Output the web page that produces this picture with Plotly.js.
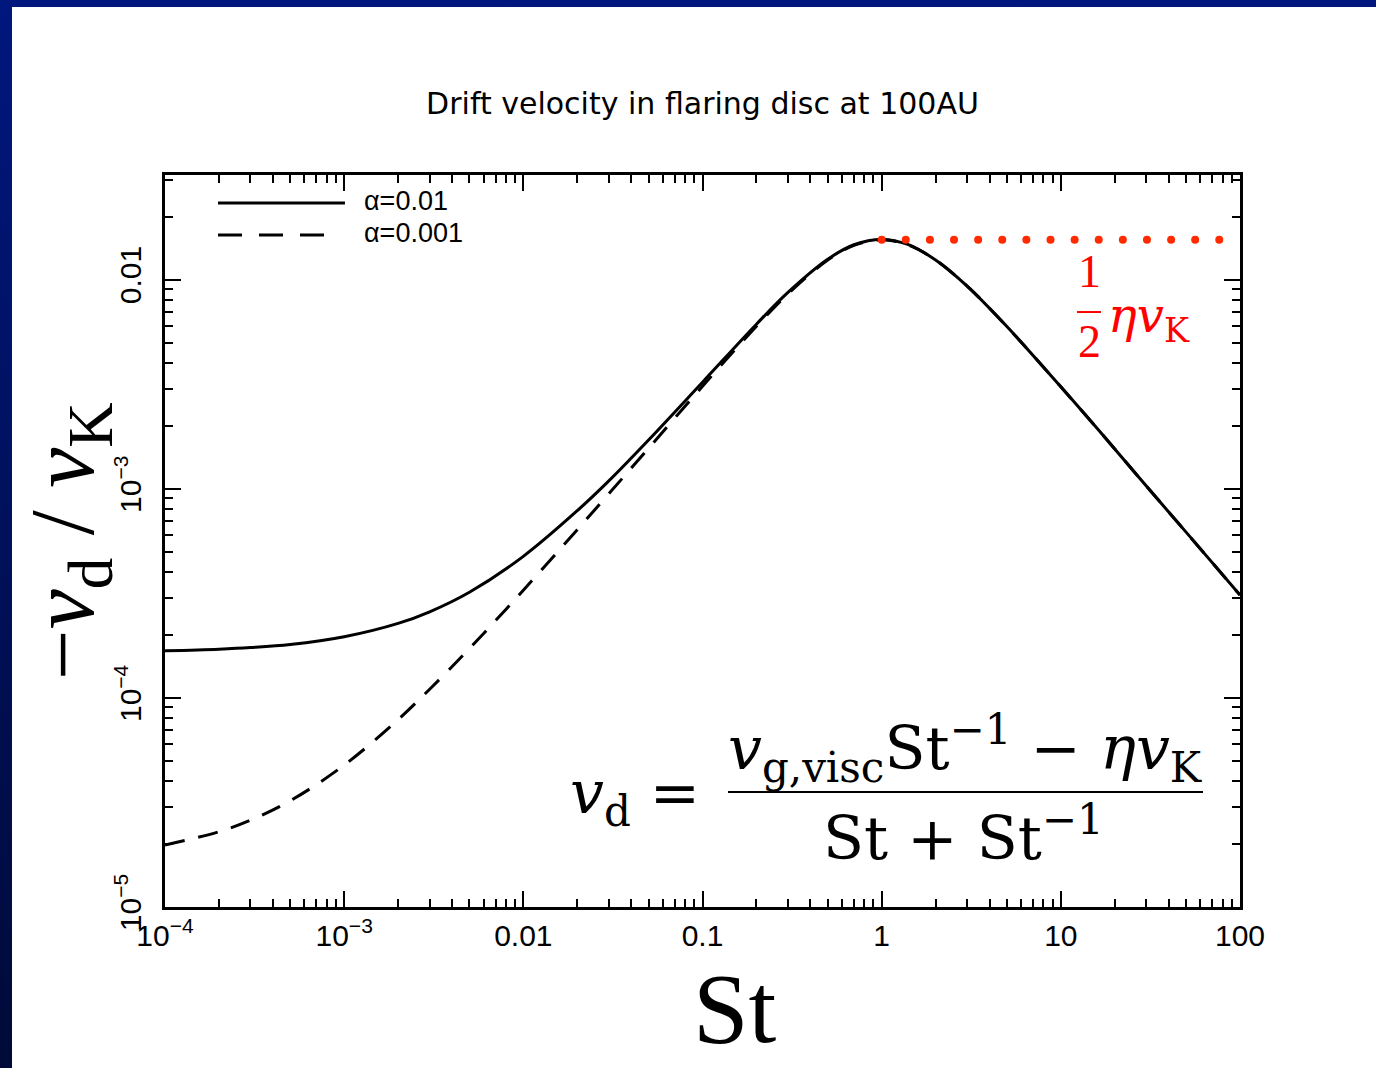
<!DOCTYPE html>
<html><head><meta charset="utf-8">
<script src="https://cdn.plot.ly/plotly-3.0.1.min.js"></script>
<style>
html,body{margin:0;padding:0;width:1376px;height:1068px;overflow:hidden;background:linear-gradient(to bottom,#00177e 0%,#000a38 100%);}
#chart{position:absolute;left:12px;top:7px;width:1364px;height:1061px;background:#fff;}
</style></head><body><div id="chart"></div>
<script>
// Stokes number samples
const stokes = [1e-4, 2e-4, 3e-4, 5e-4, 1e-3, 2e-3, 3e-3, 5e-3, 0.01, 0.02, 0.03, 0.05, 0.1, 0.2, 0.3, 0.5, 0.7, 1, 1.4, 2, 3, 5, 10, 20, 30, 50, 100];
// -v_d / v_K for alpha = 0.01 (solid)
const driftAlpha01 = [1.68e-4, 1.71e-4, 1.74e-4, 1.80e-4, 1.96e-4, 2.27e-4, 2.58e-4, 3.2e-4, 4.75e-4, 7.85e-4, 1.09e-3, 1.71e-3, 3.23e-3, 6.12e-3, 8.68e-3, 1.25e-2, 1.467e-2, 1.556e-2, 1.472e-2, 1.24e-2, 9.3e-3, 5.96e-3, 3.07e-3, 1.55e-3, 1.03e-3, 6.2e-4, 3.1e-4];
// -v_d / v_K for alpha = 0.001 (dashed)
const driftAlpha001 = [1.98e-5, 2.29e-5, 2.6e-5, 3.22e-5, 4.77e-5, 7.87e-5, 1.10e-4, 1.72e-4, 3.27e-4, 6.37e-4, 9.46e-4, 1.56e-3, 3.09e-3, 5.98e-3, 8.55e-3, 1.24e-2, 1.458e-2, 1.551e-2, 1.467e-2, 1.24e-2, 9.3e-3, 5.96e-3, 3.07e-3, 1.55e-3, 1.03e-3, 6.2e-4, 3.1e-4];
// red dotted line at the maximum (1/2 eta v_K)
const peakDotSt = [1, 1.363, 1.859, 2.534, 3.455, 4.71, 6.42, 8.76, 11.94, 16.28, 22.19, 30.25, 41.25, 56.2, 76.6];
const peakDotValue = [0.0155, 0.0155, 0.0155, 0.0155, 0.0155, 0.0155, 0.0155, 0.0155, 0.0155, 0.0155, 0.0155, 0.0155, 0.0155, 0.0155, 0.0155];
const seriesNames = ['α=0.01', 'α=0.001'];
const xTickVals = [1e-4, 1e-3, 0.01, 0.1, 1, 10, 100];
const xTickText = ['10<sup>−4</sup>', '10<sup>−3</sup>', '0.01', '0.1', '1', '10', '100'];
const yTickVals = [1e-5, 1e-4, 1e-3, 1e-2];
const yTickText = ['10<sup>−5</sup>', '10<sup>−4</sup>', '10<sup>−3</sup>', '0.01'];
const titleText = 'Drift velocity in flaring disc at 100AU';

function minorTicks(d0, d1) {
  const out = [];
  for (let d = d0; d < d1; d++) for (let k = 2; k <= 9; k++) out.push(k * Math.pow(10, d));
  return out;
}

const traces = [
  {x: stokes, y: driftAlpha001, name: seriesNames[1], mode: 'lines', line: {color: '#000', width: 3, dash: '20px,14px', shape: 'spline'}},
  {x: stokes, y: driftAlpha01, name: seriesNames[0], mode: 'lines', line: {color: '#000', width: 3, shape: 'spline'}},
  {x: peakDotSt, y: peakDotValue, name: '½ηv_K', mode: 'markers', marker: {color: '#ff2a00', size: 8}, cliponaxis: false}
];

const tickFont = {family: 'Liberation Sans, Arial, sans-serif', size: 30, color: '#000'};
const serif = 'Liberation Serif, Times New Roman, serif';
const wideSerif = 'DejaVu Serif, serif';
const axisCommon = {
  type: 'log', tickmode: 'array', ticks: 'inside', ticklen: 16, tickwidth: 2, tickcolor: '#000',
  showline: true, linewidth: 3, linecolor: '#000', mirror: 'ticks', showgrid: false, zeroline: false,
  tickfont: tickFont
};

const layout = {
  width: 1364, height: 1061,
  margin: {l: 153, r: 136, t: 168, b: 161},
  paper_bgcolor: '#fff', plot_bgcolor: '#fff',
  showlegend: false,
  title: {text: titleText, font: {family: 'DejaVu Sans, sans-serif', size: 30, color: '#000'},
          x: 0.5, xref: 'paper', xanchor: 'center', y: 1 - 96 / 1061, yref: 'container', yanchor: 'middle'},
  xaxis: Object.assign({}, axisCommon, {range: [-4, 2], tickvals: xTickVals, ticktext: xTickText, ticklabelstandoff: 0,
    minor: {tickmode: 'array', tickvals: minorTicks(-4, 2), ticks: 'inside', ticklen: 8, tickwidth: 2, tickcolor: '#000', showgrid: false}}),
  yaxis: Object.assign({}, axisCommon, {range: [-5, -1.5], tickvals: yTickVals, ticktext: yTickText, tickangle: -90, ticklabelstandoff: 9,
    minor: {tickmode: 'array', tickvals: minorTicks(-5, -1).filter(v => v < 0.0316), ticks: 'inside', ticklen: 8, tickwidth: 2, tickcolor: '#000', showgrid: false}}),
  shapes: [
    {type: 'line', xref: 'paper', yref: 'paper', x0: 0.0493, x1: 0.1674, y0: 0.9617, y1: 0.9617, line: {color: '#000', width: 3}},
    {type: 'line', xref: 'paper', yref: 'paper', x0: 0.0493, x1: 0.153, y0: 0.918, y1: 0.918, line: {color: '#000', width: 3, dash: '24px,17px'}},
    {type: 'line', xref: 'paper', yref: 'paper', x0: 0.5237, x1: 0.9656, y0: 0.157, y1: 0.157, line: {color: '#000', width: 2}},
    {type: 'line', xref: 'paper', yref: 'paper', x0: 0.8484, x1: 0.8707, y0: 0.8128, y1: 0.8128, line: {color: '#ff0000', width: 2}}
  ],
  annotations: [
    {text: seriesNames[0], xref: 'paper', yref: 'paper', x: 0.1833, y: 0.9645, xanchor: 'left', yanchor: 'middle', showarrow: false,
     font: {family: 'Liberation Sans, Arial, sans-serif', size: 27, color: '#000'}},
    {text: seriesNames[1], xref: 'paper', yref: 'paper', x: 0.1833, y: 0.9208, xanchor: 'left', yanchor: 'middle', showarrow: false,
     font: {family: 'Liberation Sans, Arial, sans-serif', size: 27, color: '#000'}},
    {text: 'St', xref: 'paper', yref: 'paper', x: (735 - 165) / 1075, y: (907 - 1008) / 732, xanchor: 'center', yanchor: 'middle', showarrow: false,
     font: {family: serif, size: 100, color: '#000'}},
    {text: '−<i>v</i><sub>d</sub> / <i>v</i><sub>K</sub>', xref: 'paper', yref: 'paper', x: (69 - 165) / 1075, y: 0.5, xanchor: 'center', yanchor: 'middle',
     textangle: -90, showarrow: false, font: {family: serif, size: 90, color: '#000'}},
    {text: '<i>v</i><sub>d</sub> =', xref: 'paper', yref: 'paper', x: (702 - 165) / 1075, y: (907 - 796) / 732, xanchor: 'right', yanchor: 'middle', showarrow: false,
     font: {family: wideSerif, size: 60, color: '#000'}},
    {text: '<i>v</i><sub>g,visc</sub>St<sup>−1</sup> − <i>ηv</i><sub>K</sub>', xref: 'paper', yref: 'paper', x: (965 - 165) / 1075, y: (907 - 748) / 732, xanchor: 'center', yanchor: 'middle', showarrow: false,
     font: {family: wideSerif, size: 60, color: '#000'}},
    {text: 'St + St<sup>−1</sup>', xref: 'paper', yref: 'paper', x: (963 - 165) / 1075, y: (907 - 834) / 732, xanchor: 'center', yanchor: 'middle', showarrow: false,
     font: {family: wideSerif, size: 60, color: '#000'}},
    {text: '1', xref: 'paper', yref: 'paper', x: 0.8596, y: 0.8675, xanchor: 'center', yanchor: 'middle', showarrow: false,
     font: {family: serif, size: 46, color: '#ff0000'}},
    {text: '2', xref: 'paper', yref: 'paper', x: 0.8596, y: 0.7719, xanchor: 'center', yanchor: 'middle', showarrow: false,
     font: {family: serif, size: 46, color: '#ff0000'}},
    {text: '<i>ηv</i><sub>K</sub>', xref: 'paper', yref: 'paper', x: 0.8753, y: 0.8046, xanchor: 'left', yanchor: 'middle', showarrow: false,
     font: {family: wideSerif, size: 48, color: '#ff0000'}}
  ]
};

Plotly.newPlot('chart', traces, layout, {displayModeBar: false, staticPlot: true});
</script></body></html>
